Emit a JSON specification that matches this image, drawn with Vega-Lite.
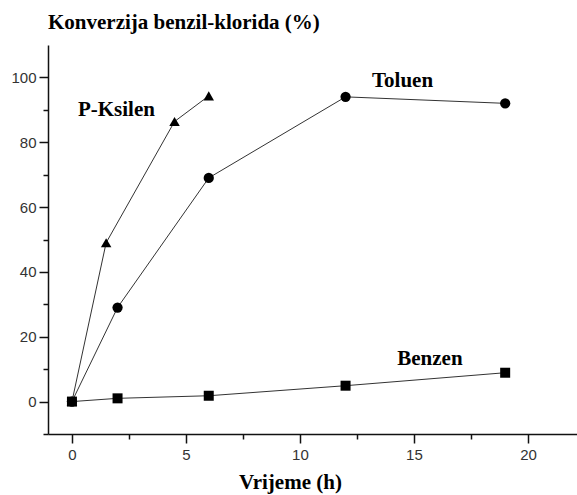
{
  "$schema": "https://vega.github.io/schema/vega-lite/v6.json",
  "width": 529,
  "height": 389,
  "autosize": "none",
  "padding": {"left": 48, "top": 45, "right": 0, "bottom": 61},
  "background": "white",
  "config": {"view": {"stroke": null}},
  "title": {
    "text": "Konverzija benzil-klorida (%)",
    "anchor": "start",
    "frame": "group",
    "font": "Liberation Serif",
    "fontSize": 21,
    "fontWeight": "bold",
    "color": "black",
    "offset": 12
  },
  "data": {
    "values": [
      {"series": "Benzen", "t": 0, "v": 0},
      {"series": "Benzen", "t": 2, "v": 1},
      {"series": "Benzen", "t": 6, "v": 1.8},
      {"series": "Benzen", "t": 12, "v": 4.9},
      {"series": "Benzen", "t": 19, "v": 8.9},
      {"series": "Toluen", "t": 0, "v": 0},
      {"series": "Toluen", "t": 2, "v": 29},
      {"series": "Toluen", "t": 6, "v": 69},
      {"series": "Toluen", "t": 12, "v": 94},
      {"series": "Toluen", "t": 19, "v": 92},
      {"series": "P-Ksilen", "t": 0, "v": 0},
      {"series": "P-Ksilen", "t": 1.5, "v": 49},
      {"series": "P-Ksilen", "t": 4.5, "v": 86.4},
      {"series": "P-Ksilen", "t": 6, "v": 94.3}
    ]
  },
  "encoding": {
    "x": {
      "field": "t",
      "type": "quantitative",
      "scale": {"domain": [-1.05, 22.15], "nice": false, "zero": false},
      "axis": {
        "title": "Vrijeme (h)",
        "values": [0, 2.5, 5, 7.5, 10, 12.5, 15, 17.5, 20],
        "labelExpr": "datum.value % 5 === 0 ? datum.label : ''",
        "tickSize": {"condition": {"test": "datum.value % 5 === 0", "value": 9}, "value": 5},
        "grid": false,
        "domainColor": "#111",
        "domainWidth": 1.5,
        "tickColor": "#111",
        "tickWidth": 1.5,
        "labelFont": "Liberation Sans",
        "labelFontSize": 15,
        "labelColor": "#333",
        "labelPadding": 4,
        "titleFont": "Liberation Serif",
        "titleFontSize": 21,
        "titleFontWeight": "bold",
        "titleColor": "black",
        "titleX": 242,
        "titlePadding": 9
      }
    },
    "y": {
      "field": "v",
      "type": "quantitative",
      "scale": {"domain": [-10, 110], "nice": false, "zero": false},
      "axis": {
        "title": null,
        "values": [-10, 0, 10, 20, 30, 40, 50, 60, 70, 80, 90, 100],
        "labelExpr": "datum.value % 20 === 0 ? datum.label : ''",
        "tickSize": {"condition": {"test": "datum.value % 20 === 0", "value": 9}, "value": 5},
        "grid": false,
        "domainColor": "#111",
        "domainWidth": 1.5,
        "tickColor": "#111",
        "tickWidth": 1.5,
        "labelFont": "Liberation Sans",
        "labelFontSize": 15,
        "labelColor": "#333",
        "labelPadding": 3
      }
    }
  },
  "layer": [
    {
      "mark": {"type": "line", "color": "#333", "strokeWidth": 1},
      "encoding": {"detail": {"field": "series"}}
    },
    {
      "mark": {"type": "point", "filled": true, "color": "black", "opacity": 1},
      "encoding": {
        "shape": {
          "field": "series",
          "scale": {"domain": ["Benzen", "Toluen", "P-Ksilen"], "range": ["square", "circle", "triangle-up"]},
          "legend": null
        },
        "size": {
          "field": "series",
          "scale": {"domain": ["Benzen", "Toluen", "P-Ksilen"], "range": [100, 110, 90]},
          "legend": null
        }
      }
    },
    {
      "data": {
        "values": [
          {"label": "P-Ksilen", "t": 1.95, "v": 90},
          {"label": "Toluen", "t": 14.5, "v": 99},
          {"label": "Benzen", "t": 15.7, "v": 13}
        ]
      },
      "mark": {"type": "text", "font": "Liberation Serif", "fontSize": 21, "fontWeight": "bold", "color": "black"},
      "encoding": {"text": {"field": "label"}}
    }
  ]
}
